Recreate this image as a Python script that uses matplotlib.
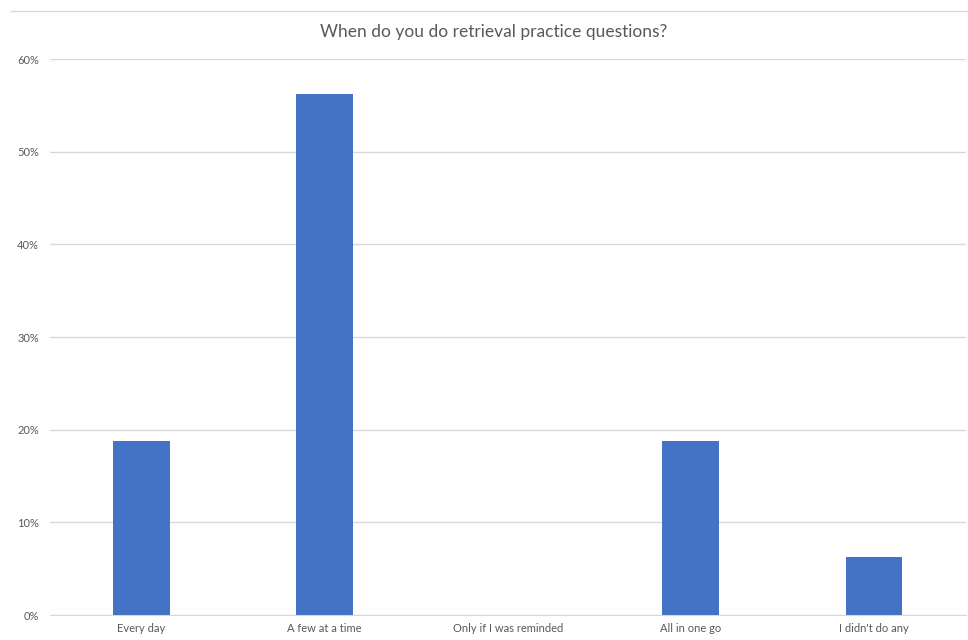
import matplotlib
matplotlib.use('Agg')
import matplotlib.pyplot as plt
from matplotlib.lines import Line2D
from matplotlib.ticker import PercentFormatter

plt.rcParams['font.family'] = ['Lato', 'DejaVu Sans']

# Dados
categorias = ['Every day', 'A few at a time', 'Only if I was reminded',
              'All in one go', "I didn't do any"]
percentuais = [18.75, 56.25, 0.0, 18.75, 6.25]
titulo = 'When do you do retrieval practice questions?'

cinza_texto = '#595959'
cinza_grade = '#d9d9d9'
azul = '#4472c4'

W, H = 968, 640
fig = plt.figure(figsize=(W / 100, H / 100), dpi=100)
ax = fig.add_axes([50 / W, 1 - 615 / H, 915.5 / W, 556 / H])

x = range(len(categorias))
ax.bar(x, percentuais, width=0.31, color=azul, zorder=3)

ax.set_xlim(-0.5, len(categorias) - 0.5)
ax.set_ylim(0, 60)
ax.set_yticks(range(0, 61, 10))
ax.yaxis.set_major_formatter(PercentFormatter(decimals=0))
ax.set_xticks(list(x))
ax.set_xticklabels(categorias)

ax.grid(axis='y', color=cinza_grade, linewidth=1, zorder=0)
for lado in ['top', 'right', 'left']:
    ax.spines[lado].set_visible(False)
ax.spines['bottom'].set_color(cinza_grade)
ax.tick_params(axis='both', length=0, labelsize=8, labelcolor=cinza_texto)
ax.tick_params(axis='y', pad=8)
ax.tick_params(axis='x', pad=6)

fig.text(494 / W, 1 - 32 / H, titulo, ha='center', va='center',
         fontsize=12.5, color=cinza_texto)

# borda superior do gráfico
fig.add_artist(Line2D([11 / W, 1], [1 - 10.5 / H, 1 - 10.5 / H],
                      transform=fig.transFigure, color=cinza_grade, linewidth=1))

fig.savefig('out.png', dpi=100)
